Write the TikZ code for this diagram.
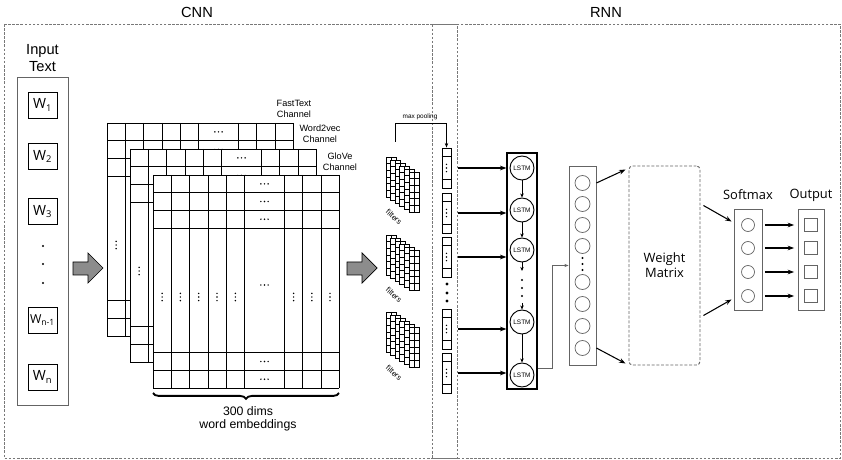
\documentclass[tikz,border=0pt]{standalone}
\usepackage{fontspec}
\setmainfont{Liberation Sans}
\newfontfamily\myriad{Open Sans}
\usetikzlibrary{arrows.meta, positioning, calc, decorations.pathreplacing}
\definecolor{framegray}{RGB}{120,120,120}
\definecolor{boxgray}{RGB}{100,100,100}
\definecolor{blockgray}{RGB}{140,140,140}

\tikzset{
  hdots/.pic={\foreach \d in {-3.6,0,3.6} \fill (\d,0) circle (0.7pt);},
  vdots/.pic={\foreach \d in {-3.6,0,3.6} \fill (0,\d) circle (0.7pt);},
  filterstack/.pic={
    \foreach \k in {0,...,5}{
      \begin{scope}[shift={(4.6*\k,3*\k)}]
        \filldraw[fill=white, line width=0.7pt] (0,0) rectangle (10,40);
        \foreach \r in {6.7,13.3,20,26.7,33.3} \draw[line width=0.55pt] (0,\r) -- (10,\r);
        \draw[line width=0.55pt] (5,0) -- (5,40);
      \end{scope}
    }
  },
}

\begin{document}
\begin{tikzpicture}[x=0.03cm, y=-0.03cm,
  frame/.style={draw=framegray, dash pattern=on 2.2pt off 1.3pt, line width=0.5pt},
  title/.style={font=\fontsize{12.5}{14}\selectfont},
  wordbox/.style={draw, line width=0.8pt, minimum width=0.87cm, minimum height=0.78cm, inner sep=0pt, font=\myriad\fontsize{12}{12}\selectfont},
  grid/.style={line width=0.6pt},
  blockarrow/.style={fill=blockgray, draw=black, line width=0.6pt},
  chan/.style={align=center, font=\fontsize{7.8}{9.6}\selectfont},
  poolbox/.style={draw, line width=0.7pt, minimum width=0.27cm, minimum height=1.2cm, inner sep=0pt},
  lstmcell/.style={circle, draw, line width=0.8pt, minimum size=0.72cm, inner sep=0pt, font=\fontsize{5.5}{6}\selectfont},
  hidcell/.style={circle, draw=boxgray, line width=0.6pt, minimum size=0.45cm, inner sep=0pt},
  smcell/.style={circle, draw=boxgray, line width=0.6pt, minimum size=0.39cm, inner sep=0pt},
  outcell/.style={rectangle, draw=boxgray, line width=0.6pt, minimum size=0.39cm, inner sep=0pt},
  colbox/.style={draw=boxgray, line width=0.7pt, inner sep=0pt},
  arr/.style={-{Stealth[length=5.5pt, width=4pt]}, line width=0.9pt},
  thinarr/.style={-{Stealth[length=3.5pt, width=2.6pt]}, draw=boxgray, line width=0.5pt},
  label/.style={font=\myriad\fontsize{11}{13}\selectfont, align=center}
]
  \useasboundingbox (0,0) rectangle (842,460);

  % frames
  \draw[frame] (4,24) rectangle (457,458);
  \draw[frame] (432,24.5) rectangle (840.5,458);
  \node[title] (cnn) at (197,12) {CNN};
  \node[title] (rnn) at (606,12) {RNN};

  % input text
  \node[title, align=center] (intext) at (42.5,58) {Input\\Text};
  \draw[draw=boxgray, line width=0.7pt] (17,77) rectangle (68,405);
  \node[wordbox] (w1) at (42.5,105) {W\textsubscript{1}};
  \node[wordbox] (w2) at (42.5,156.5) {W\textsubscript{2}};
  \node[wordbox] (w3) at (42.5,211.5) {W\textsubscript{3}};
  \node[wordbox, font=\myriad\fontsize{10.5}{12}\selectfont] (wn1) at (42.5,320.5) {W\textsubscript{n-1}};
  \node[wordbox] (wn) at (42.5,377) {W\textsubscript{n}};
  \foreach \y in {246,264,283} \fill (43,\y) circle (1pt);

  \draw[blockarrow] (73,262) -- (88,262) -- (88,253) -- (103,268) -- (88,283) -- (88,275) -- (73,275) -- cycle;

  % embedding channels
  \foreach \lx/\ly in {107/123, 130/149, 153/175}{
    \fill[white] (\lx,\ly) rectangle ++(186,213);
    \foreach \c in {0,18.3,36.6,54.9,73.2,91.5,131.5,149.8,168,186}
      \draw[grid] (\lx+\c,\ly) -- ++(0,213);
    \foreach \r in {0,17.7,35.4,53.1,177.6,195.3,213}
      \draw[grid] (\lx,\ly+\r) -- ++(186,0);
    \foreach \r in {8.9,26.5,44.2,110,186.5,204.2}
      \pic at (\lx+111.5,\ly+\r) {hdots};
    \foreach \c in {9.1,27.4,45.7,64,82.4,140.6,158.9,177}
      \pic at (\lx+\c,\ly+122) {vdots};
  }
  \node[chan] (fasttext) at (294,109) {FastText\\Channel};
  \node[chan] (word2vec) at (320,134) {Word2vec\\Channel};
  \node[chan] (glove) at (340,162) {GloVe\\Channel};

  \draw[decorate, decoration={brace, mirror, amplitude=5pt}, line width=1.6pt] (153,393) -- (339,393);
  \node[align=center, font=\fontsize{10.5}{11.5}\selectfont] (dims) at (248,419) {300 dims\\word embeddings};

  \draw[blockarrow] (347,262) -- (362,262) -- (362,253) -- (377,268) -- (362,283) -- (362,275) -- (347,275) -- cycle;

  % filters
  \foreach \fy/\ty in {157/217, 235/295, 312/373}{
    \pic at (386,\fy) {filterstack};
    \node[rotate=-42, font=\fontsize{6.5}{7}\selectfont, inner sep=0pt] at (394,\ty) {filters};
  }

  % pooled vectors
  \foreach \i/\y in {1/168, 2/213, 3/257, 4/329, 5/373}{
    \node[poolbox] (p\i) at (446.5,\y) {};
    \draw[line width=0.6pt] ($(p\i.north west)+(0,9)$) -- ($(p\i.north east)+(0,9)$);
    \draw[line width=0.6pt] ($(p\i.south west)+(0,-9)$) -- ($(p\i.south east)+(0,-9)$);
    \pic at (p\i) {vdots};
  }
  \foreach \y in {284,293,301} \fill (447,\y) circle (1.4pt);

  \coordinate (f1top) at (395,142);
  \draw[-{Stealth[length=4pt, width=3pt]}, line width=0.6pt] (f1top) -- ++(0,-19) -| (p1.north);
  \node[font=\fontsize{5.5}{6}\selectfont] (maxpool) at (420,117) {max pooling};

  % LSTM chain
  \node[draw, line width=1pt, minimum width=0.9cm, minimum height=7.08cm, inner sep=0pt] (lcol) at (522,271) {};
  \foreach \i/\y in {1/168, 2/210, 3/250, 4/322, 5/375}
    \node[lstmcell] (l\i) at (522,\y) {LSTM};
  \foreach \i in {1,...,5}
    \draw[arr, shorten <=6pt] (p\i.east) -- (lcol.west |- p\i);
  \draw[-{Stealth[length=3.5pt, width=3pt]}, line width=0.8pt] (l1) -- (l2);
  \draw[-{Stealth[length=3.5pt, width=3pt]}, line width=0.8pt] (l2) -- (l3);
  \coordinate (ga) at (522,271);
  \coordinate (gb) at (522,303);
  \draw[-{Stealth[length=3.5pt, width=3pt]}, line width=0.8pt] (l3) -- (ga);
  \draw[-{Stealth[length=3.5pt, width=3pt]}, line width=0.8pt] (gb) -- (l4);
  \foreach \y in {280,288,296} \fill (522,\y) circle (1pt);
  \draw[-{Stealth[length=3.5pt, width=3pt]}, line width=0.8pt] (l4) -- (l5);

  % hidden layer
  \node[colbox, minimum width=0.81cm, minimum height=5.97cm] (hcol) at (582.5,265.5) {};
  \foreach \i/\y in {1/183, 2/204, 3/225, 4/246, 5/282, 6/304, 7/326, 8/348}
    \node[hidcell] (h\i) at (582.5,\y) {};
  \foreach \y in {258,264,270} \fill (582.5,\y) circle (1pt);
  \draw[thinarr] ($(lcol.east |- l5)+(0,-7)$) -- ++(15,0) |- (hcol.west);

  % weight matrix
  \node[draw=boxgray, dash pattern=on 2.5pt off 1.5pt, line width=0.8pt, rounded corners=3pt,
        minimum width=2.13cm, minimum height=5.97cm, label] (wm) at (664.5,265.5) {Weight\\Matrix};
  \draw[arr] (hcol.east |- h1) -- ($(wm.north west)+(-3,4)$);
  \draw[arr] (hcol.east |- h8) -- ($(wm.south west)+(-3,-2)$);

  % softmax and output
  \node[colbox, minimum width=0.84cm, minimum height=3.03cm] (sm) at (748,259.5) {};
  \node[colbox, minimum width=0.78cm, minimum height=3.03cm] (out) at (811,259.5) {};
  \node[label] (smlabel) at (748,195) {Softmax};
  \node[label] (outlabel) at (811,195) {Output};
  \foreach \i/\y in {1/225, 2/248, 3/272, 4/296}{
    \node[smcell] (s\i) at (748,\y) {};
    \node[outcell] (o\i) at (811,\y) {};
    \draw[arr, shorten <=2pt, shorten >=3pt] (sm.east |- s\i) -- (out.west |- o\i);
  }
  \draw[arr] ($(wm.east)+(3,-60)$) -- ($(sm.west)+(-2,-38)$);
  \draw[arr] ($(wm.east)+(3,50)$) -- ($(sm.west)+(-2,40)$);
\end{tikzpicture}
\end{document}
